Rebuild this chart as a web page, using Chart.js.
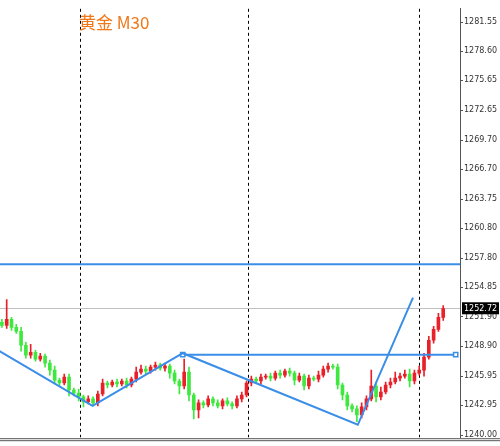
<!DOCTYPE html>
<html><head><meta charset="utf-8">
<script src="https://cdn.jsdelivr.net/npm/chart.js@4"></script>
<style>body{margin:0;background:#fff;overflow:hidden}#wrap{width:506px;height:446px;margin-left:-6px}</style>
</head><body><div id="wrap"><canvas id="c"></canvas></div>
<script>
// gold M30 closes, one per candle (open = previous close)
const closes = [1251.0,1251.6,1250.8,1250.4,1249.0, 1248.0,1248.3,1247.6,1247.9,1247.2,
  1246.5,1245.5,1245.2,1245.8,1244.5, 1244.2,1243.8,1243.3,1243.6,1243.2,
  1244.1,1245.2,1245.0,1245.3,1245.1, 1245.4,1245.0,1245.6,1246.3,1246.6,
  1246.4,1246.8,1247.0,1246.7,1246.9, 1246.2,1245.4,1244.9,1246.3,1244.0,
  1242.5,1243.2,1243.0,1243.6,1243.2, 1242.9,1243.4,1243.1,1242.9,1243.6,
  1244.0,1245.2,1245.6,1245.4,1245.8, 1245.9,1245.7,1246.2,1246.0,1246.4,
  1246.2,1245.5,1245.9,1244.9,1245.7, 1245.6,1246.0,1246.6,1246.9,1246.8,
  1245.0,1244.0,1242.9,1242.6,1242.0, 1242.8,1243.6,1244.9,1243.8,1244.3,
  1245.0,1245.3,1245.7,1245.9,1246.1, 1245.4,1246.2,1246.5,1247.8,1249.5,
  1250.6,1251.8,1252.7];
const firstOpen = 1251.3;
// wick lengths above / below the body
const wickHi = [0.3,2.0,0.2,0.3,0.4, 0.3,0.8,0.2,0.3,0.2, 0.3,0.4,0.2,0.3,0.3, 0.2,0.4,0.2,0.3,0.2,
  0.3,0.4,0.2,0.2,0.3, 0.2,0.3,0.2,0.5,0.4, 0.3,0.2,0.3,0.2,0.3, 0.2,0.3,0.2,1.3,0.5,
  0.2,0.3,0.2,0.3,0.2, 0.3,0.2,0.3,0.2,0.3, 0.3,0.2,0.3,0.2,0.3, 0.2,0.3,0.2,0.3,0.2,
  0.3,0.2,0.3,0.2,0.3, 0.2,0.4,0.3,0.3,0.2, 0.3,0.2,0.3,0.2,0.3, 0.4,0.3,1.6,0.4,0.5,
  0.3,0.4,0.6,0.3,0.4, 0.5,0.3,0.4,0.4,0.4, 0.3,0.4,0.3];
const wickLo = [0.2,0.3,0.3,0.2,0.6, 0.3,0.3,0.2,0.2,0.4, 0.5,0.4,0.3,0.2,0.6, 0.3,0.4,0.5,0.2,0.3,
  0.3,0.2,0.3,0.2,0.3, 0.2,0.3,0.2,0.3,0.2, 0.3,0.2,0.3,0.2,0.3, 0.5,0.3,0.8,0.3,0.6,
  0.9,0.8,0.3,0.2,0.3, 0.2,0.3,0.2,0.3,0.2, 0.3,0.2,0.3,0.2,0.3, 0.2,0.3,0.2,0.3,0.2,
  0.3,0.5,0.2,0.4,0.3, 0.2,0.3,0.2,0.3,0.2, 0.4,0.5,0.4,0.3,0.7, 0.3,0.3,0.2,0.5,0.3,
  0.2,0.3,0.2,0.3,0.2, 0.6,0.3,0.2,0.6,0.2, 0.3,0.2,0.3];
const yTicks = [1240.00,1242.95,1245.95,1248.90,1251.90,1254.85,1257.80,1260.80,1263.75,1266.70,1269.70,1272.65,1275.65,1278.60,1281.55];
const zigzag = [[-0.5,1248.4],[18.9,1242.9],[37.7,1248.2],[74.2,1241.0],[85.7,1253.8]];
const neckline = [[37.7,1248.05],[94.6,1248.05]];
const resistance = 1257.15;
const lastPrice = 1252.72;
const sessionBreaks = [16.2, 51.3, 87.0];

const opens = closes.map((c, i) => i ? closes[i - 1] : firstOpen);
const bodies = closes.map((c, i) => ({x: i, y: [opens[i], c === opens[i] ? c + 0.05 : c]}));
const wicks = closes.map((c, i) => ({x: i, y: [Math.min(opens[i], c) - wickLo[i], Math.max(opens[i], c) + wickHi[i]]}));
const cols = closes.map((c, i) => c >= opens[i] ? '#e8202a' : '#3ee83e');

const overlay = {
  id: 'overlay',
  beforeDatasetsDraw(chart) {
    const {ctx, chartArea: a, scales: {x, y}} = chart;
    ctx.save();
    ctx.strokeStyle = '#000'; ctx.lineWidth = 1; ctx.setLineDash([3, 3]);
    sessionBreaks.forEach(v => {
      const px = Math.round(x.getPixelForValue(v)) + 0.5;
      ctx.beginPath(); ctx.moveTo(px, a.top); ctx.lineTo(px, a.bottom); ctx.stroke();
    });
    ctx.setLineDash([]);
    ctx.strokeStyle = '#c0c0c0';
    const py = Math.round(y.getPixelForValue(lastPrice)) + 0.5;
    ctx.beginPath(); ctx.moveTo(0, py); ctx.lineTo(a.right, py); ctx.stroke();
    ctx.strokeStyle = '#555';
    ctx.beginPath(); ctx.moveTo(0, a.bottom + 1.5); ctx.lineTo(506, a.bottom + 1.5); ctx.stroke();
    ctx.beginPath(); ctx.moveTo(0, a.bottom + 3.5); ctx.lineTo(506, a.bottom + 3.5); ctx.stroke();
    yTicks.forEach(v => {
      const ty = Math.round(y.getPixelForValue(v)) + 0.5;
      ctx.beginPath(); ctx.moveTo(a.right, ty); ctx.lineTo(a.right + 3, ty); ctx.stroke();
    });
    ctx.restore();
  },
  afterDraw(chart) {
    const {ctx, chartArea: a, scales: {y}} = chart;
    ctx.save();
    const py = y.getPixelForValue(lastPrice);
    ctx.fillStyle = '#000';
    ctx.fillRect(a.right + 2, py - 6, 37, 12);
    ctx.fillStyle = '#fff'; ctx.font = '8px "DejaVu Sans"';
    ctx.textBaseline = 'middle';
    ctx.fillText(lastPrice.toFixed(2), a.right + 4, py + 0.5);
    ctx.fillStyle = '#f07818'; ctx.font = '17px "Noto Sans CJK SC"';
    ctx.textBaseline = 'alphabetic';
    ctx.fillText('黄金 M30', 85, 29);
    ctx.restore();
  }
};

new Chart(document.getElementById('c'), {
  type: 'bar',
  data: {
    datasets: [
      {type: 'line', data: zigzag.map(p => ({x: p[0], y: p[1]})), borderColor: '#3a8ee8', borderWidth: 2, pointRadius: 0, order: 0},
      {type: 'line', data: neckline.map(p => ({x: p[0], y: p[1]})), borderColor: '#3a8ee8', borderWidth: 2,
        pointStyle: 'rect', pointRadius: 3, pointBackgroundColor: '#fff', pointBorderColor: '#3a8ee8', pointBorderWidth: 1.5, order: 0},
      {type: 'line', data: [{x: -0.5, y: resistance}, {x: 95.5, y: resistance}], borderColor: '#3a8ee8', borderWidth: 2, pointRadius: 0, order: 0},
      {data: bodies, backgroundColor: cols, barThickness: 3, grouped: false, order: 1},
      {data: wicks, backgroundColor: cols, barThickness: 1, grouped: false, order: 2}
    ]
  },
  options: {
    animation: false, responsive: true, maintainAspectRatio: false,
    layout: {padding: {left: 0, top: 0, bottom: 5, right: 0}},
    plugins: {legend: {display: false}, tooltip: {enabled: false}},
    scales: {
      x: {type: 'linear', min: -0.5, max: 95.5, offset: false, display: false},
      y: {
        position: 'right', min: 1239.75, max: 1282.85,
        grid: {display: false, drawTicks: false},
        border: {color: '#555'},
        afterBuildTicks: s => { s.ticks = yTicks.map(v => ({value: v})); },
        afterFit: s => { s.width = 40; },
        ticks: {color: '#333', font: {size: 8, family: 'DejaVu Sans'}, padding: 4, callback: v => v.toFixed(2)}
      }
    }
  },
  plugins: [overlay]
});
</script></body></html>
